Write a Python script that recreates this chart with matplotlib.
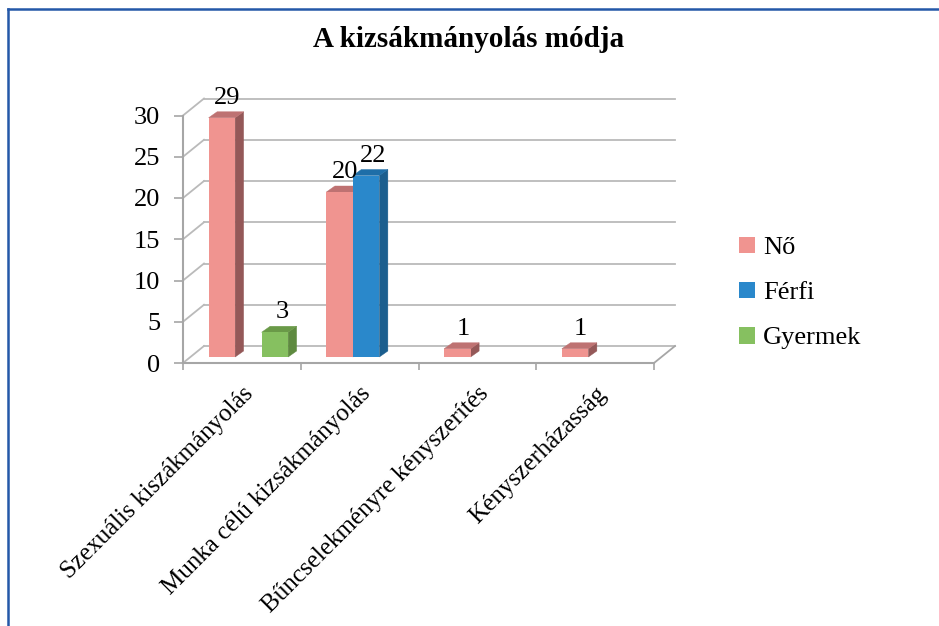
import matplotlib
matplotlib.use('Agg')
import matplotlib.pyplot as plt
from matplotlib.patches import Polygon, Patch
from matplotlib.lines import Line2D
import numpy as np

# ── Data ──────────────────────────────────────────────────────────────────────
categories = ['Szexuális kiszákmányolás', 'Munka célú kizsákmányolás',
              'Bűncselekményre kényszerítés', 'Kényszerházasság']
series_names = ['Nő', 'Férfi', 'Gyermek']
no_vals      = [29, 20, 1, 1]
ferfi_vals   = [None, 22, None, None]
gyermek_vals = [3, None, None, None]
yticks = [0, 5, 10, 15, 20, 25, 30]

# ── Colours (front, top, side) ────────────────────────────────────────────────
COLS = {
    'Nő':      ('#F09490', '#BE7272', '#945858'),
    'Férfi':   ('#2A88CB', '#1E6EA8', '#1B5E8E'),
    'Gyermek': ('#86C060', '#6A9A48', '#5E8A40'),
}
C_GRID = '#BABABA'
C_AXIS = '#A6A6A6'
C_BORDER = '#2458A8'
FONT = 'Liberation Serif'

W, H = 939, 626
fig = plt.figure(figsize=(W/100, H/100), dpi=100)
fig.patch.set_facecolor('white')

# front plane of the 3D box, in pixels
x0, x1, y0, y1 = 183, 654, 363, 115.5
ax = fig.add_axes([x0/W, 1-y0/H, (x1-x0)/W, (y0-y1)/H])
ax.set_xlim(-0.5, 3.5)
ax.set_ylim(0, 30)
ax.patch.set_visible(False)

px_x = (x1-x0)/4.0       # px per category
px_y = (y0-y1)/30.0      # px per value unit
DX, DY = 21/px_x, 17/px_y          # floor depth
BX, BY = 6.5/px_x, 6/px_y          # bar front offset into depth
TX, TY = 8.5/px_x, 6/px_y          # bar thickness
bw = 26.5/px_x

# back wall + left wall gridlines
for v in yticks:
    ax.plot([-0.5+DX, 3.5+DX], [v+DY, v+DY], color=C_GRID, lw=1.3, zorder=1, clip_on=False)
    ax.plot([-0.5, -0.5+DX], [v, v+DY], color=C_GRID, lw=1.3, zorder=1, clip_on=False)
ax.plot([3.5, 3.5+DX], [0, DY], color=C_AXIS, lw=1.3, zorder=1, clip_on=False)

# bars
all_vals = [no_vals, ferfi_vals, gyermek_vals]
offsets = [-bw, 0, bw]
label_dx = {'Nő': 1, 'Férfi': 2, 'Gyermek': 2}
for name, vals, off in zip(series_names, all_vals, offsets):
    front, top, side = COLS[name]
    for i, v in enumerate(vals):
        if v is None:
            continue
        xl = i + off + BX - bw/2
        xr = xl + bw
        b = BY
        t = BY + v
        ax.add_patch(Polygon([(xr, b), (xr, t), (xr+TX, t+TY), (xr+TX, b+TY)],
                             closed=True, fc=side, ec=side, lw=0.3, zorder=3, clip_on=False))
        ax.add_patch(Polygon([(xl, t), (xr, t), (xr+TX, t+TY), (xl+TX, t+TY)],
                             closed=True, fc=top, ec=top, lw=0.3, zorder=3, clip_on=False))
        ax.bar(xl + bw/2, v, width=bw, bottom=b, color=front, zorder=4, clip_on=False)
        ax.annotate(str(v), (xl + bw/2 + TX/2, t + TY), xytext=(label_dx[name], 2),
                    textcoords='offset points', ha='center', va='bottom',
                    fontsize=19, family=FONT, color='black', zorder=6,
                    annotation_clip=False)

# axes styling
for s in ['top', 'right']:
    ax.spines[s].set_visible(False)
for s in ['left', 'bottom']:
    ax.spines[s].set_color(C_AXIS)
    ax.spines[s].set_linewidth(1.5)
ax.set_yticks(yticks)
ax.set_yticklabels([str(v) for v in yticks], fontsize=19, family=FONT)
ax.tick_params(axis='y', length=6.5, width=1.2, color=C_AXIS, pad=10)
ax.set_xticks([-0.5, 0.5, 1.5, 2.5, 3.5])
ax.set_xticklabels([])
ax.tick_params(axis='x', which='major', length=5, width=1.2, color=C_AXIS)
ax.set_xticks(np.arange(len(categories)), minor=True)
ax.set_xticklabels(categories, minor=True, rotation=45, ha='right',
                   rotation_mode='anchor', fontsize=18, family=FONT)
ax.tick_params(axis='x', which='minor', length=0, pad=14)

# title
fig.text(469/W, 1-47/H, 'A kizsákmányolás módja', ha='center', va='baseline',
         fontsize=21, fontweight='bold', family=FONT)

# legend
handles = [Patch(facecolor=COLS[n][0], edgecolor='none', label=n) for n in series_names]
fig.legend(handles=handles, loc='center left', bbox_to_anchor=(739/W, 1-293/H),
           frameon=False, prop={'family': FONT, 'size': 19}, borderpad=0, borderaxespad=0,
           handlelength=0.6, handleheight=0.6, handletextpad=0.3, labelspacing=0.85)

# chart border (left and top visible)
fig.add_artist(Line2D([8/W, 8/W], [0, 1-9/H], color=C_BORDER, lw=1.8, transform=fig.transFigure))
fig.add_artist(Line2D([8/W, 1], [1-9/H, 1-9/H], color=C_BORDER, lw=1.8, transform=fig.transFigure))

fig.savefig('out.png', dpi=100, facecolor='white')
